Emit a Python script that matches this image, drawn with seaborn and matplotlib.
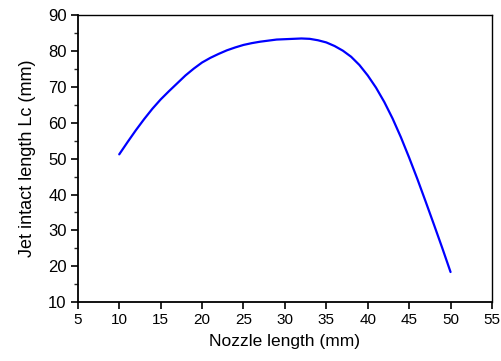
import matplotlib
matplotlib.use("Agg")
import matplotlib.pyplot as plt
import seaborn as sns
import pandas as pd
from matplotlib.ticker import MultipleLocator

nozzle_length = [10, 11, 12, 13, 14, 15, 16, 17, 18, 19, 20, 21, 22, 23, 24, 25, 26, 27, 28, 29, 30,
                 31, 32, 33, 34, 35, 36, 37, 38, 39, 40, 41, 42, 43, 44, 45, 46, 47, 48, 49, 50]
jet_length = [51.2, 54.6, 57.9, 61.0, 63.9, 66.5, 68.8, 71.0, 73.2, 75.1, 76.8, 78.1, 79.2, 80.2, 81.0,
              81.7, 82.2, 82.6, 82.9, 83.2, 83.3, 83.4, 83.5, 83.4, 83.0, 82.4, 81.4, 80.1, 78.4, 76.1,
              73.2, 69.8, 65.8, 61.2, 56.0, 50.3, 44.3, 38.0, 31.6, 25.1, 18.4]
x_ticks = [5, 10, 15, 20, 25, 30, 35, 40, 45, 50, 55]
y_ticks = [10, 20, 30, 40, 50, 60, 70, 80, 90]

sns.set_theme(style="white")
plt.rcParams['font.family'] = ['Liberation Sans', 'DejaVu Sans']

df = pd.DataFrame({"x": nozzle_length, "y": jet_length})

fig = plt.figure(figsize=(5.02, 3.61), dpi=100)
ax = fig.add_axes([0.155, 0.163, 0.825, 0.795])
sns.lineplot(data=df, x="x", y="y", ax=ax, color="#0000FF", linewidth=1.6)

ax.set_xlim(5, 55)
ax.set_ylim(10, 90)
ax.set_xticks(x_ticks)
ax.set_yticks(y_ticks)
ax.yaxis.set_minor_locator(MultipleLocator(5))
ax.tick_params(axis="both", which="major", direction="out", length=5, width=1.2,
               colors="black", bottom=True, left=True, top=False, right=False, pad=3)
ax.tick_params(axis="x", which="major", labelsize=11)
ax.tick_params(axis="y", which="major", labelsize=12)
ax.tick_params(axis="y", which="minor", direction="out", length=3, width=1.0, left=True)
ax.set_xlabel("Nozzle length (mm)", fontsize=12.5, color="black", labelpad=5)
ax.set_ylabel("Jet intact length Lc (mm)", fontsize=13, color="black", labelpad=9)

for side in ["left", "bottom"]:
    ax.spines[side].set_linewidth(1.3)
    ax.spines[side].set_color("black")
for side in ["top", "right"]:
    ax.spines[side].set_linewidth(1.0)
    ax.spines[side].set_color("black")

fig.savefig("out.png", dpi=100)
